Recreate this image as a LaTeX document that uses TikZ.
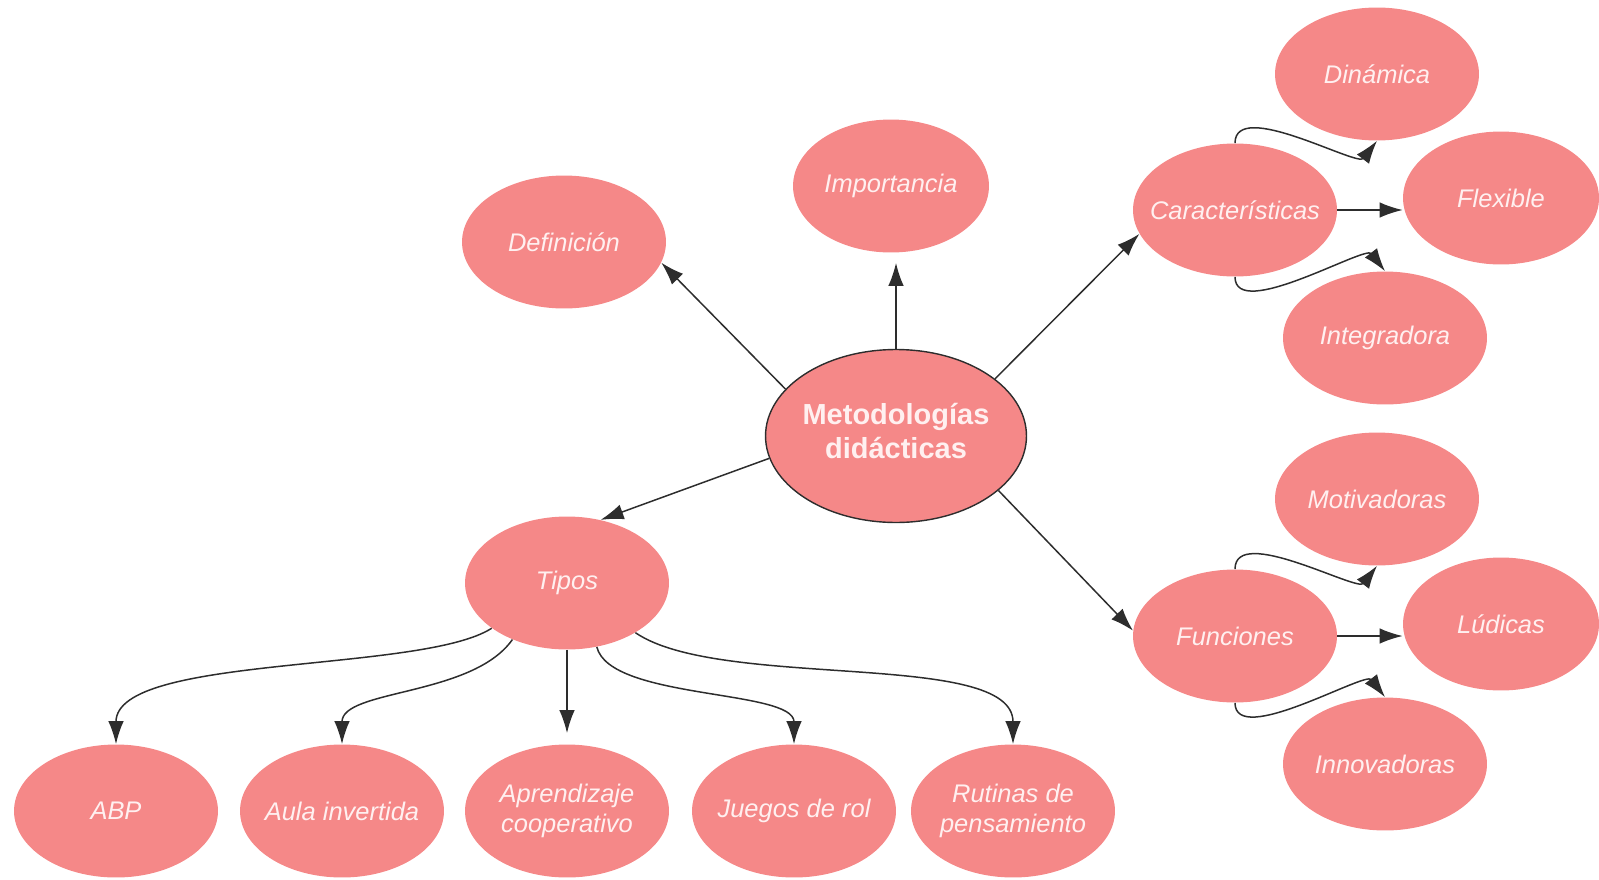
\documentclass[tikz,border=0pt]{standalone}
\usepackage{fontspec}
\setmainfont{Liberation Sans}
\usetikzlibrary{shapes.geometric,arrows.meta}
\definecolor{bubblefill}{RGB}{245,136,136}
\definecolor{bubbletext}{RGB}{255,240,240}
\definecolor{linkgray}{RGB}{45,45,45}
\begin{document}
\begin{tikzpicture}[x=0.02cm, y=-0.02cm]
    \tikzstyle{bubble}=[
        ellipse, fill=bubblefill, text=bubbletext,
        inner xsep=-0.3cm, inner ysep=0pt,
        minimum width=4.08cm, minimum height=2.66cm, align=center,
        font=\fontsize{14.5}{17.5}\selectfont\itshape]
    \tikzstyle{narrow}=[bubble, minimum width=3.92cm]
    \tikzstyle{hub}=[bubble, draw=linkgray, line width=0.8pt,
        minimum width=5.22cm, minimum height=3.46cm,
        font=\fontsize{16.5}{19}\selectfont\bfseries]
    \tikzstyle{connector}=[-{Latex[length=4.6mm,width=3.1mm]},
        color=linkgray, line width=0.85pt]
    \useasboundingbox (0,0) rectangle (1599,879);

    \node [hub] (meta) at (896,436) {Metodologías\\didácticas\strut};
    \node [bubble] (def) at (564,242) {Definición};
    \node [narrow] (imp) at (891,186) {Importancia};

    \node [bubble] (car) at (1235,210) {Características};
    \node [bubble] (din) at (1377,74) {Dinámica};
    \node [narrow] (flex) at (1501,198) {Flexible};
    \node [bubble] (integ) at (1385,338) {Integradora};

    \node [bubble] (fun) at (1235,636) {Funciones};
    \node [bubble] (motiv) at (1377,499) {Motivadoras};
    \node [narrow] (lud) at (1501,624) {Lúdicas};
    \node [bubble] (innov) at (1385,764) {Innovadoras};

    \node [bubble] (tipos) at (567,583) {Tipos};
    \foreach \name / \x / \label in {abp/116/ABP, aula/342/Aula invertida,
            apr/567/{Aprendizaje\\cooperativo}, juegos/794/Juegos de rol,
            rutinas/1013/{Rutinas de\\pensamiento}}
        \node [bubble] (\name) at (\x, 811) {\label};

    % from the centre
    \path [connector] (meta.157) edge (def.-12);
    \path [connector, shorten >=0.2cm] (meta.north) edge (meta.north |- imp.south);
    \path [connector] (meta.30) edge (car.194);
    \path [connector] (meta.190) edge (tipos.62);
    \path [connector] (meta.332) edge (fun.177);

    % characteristics and functions
    \foreach \src / \up / \mid / \down in {car/din/flex/integ, fun/motiv/lud/innov} {
        \draw [connector] (\src.north) .. controls +(0,-45) and +(-20,26) .. (\up.south);
        \path [connector] (\src.east) edge (\mid.west |- \src.east);
        \draw [connector] (\src.south) .. controls +(0,45) and +(-20,-26) .. (\down.north);
    }

    % kinds
    \draw [connector] (tipos.211) .. controls +(-70,45) and +(0,-90) .. (abp.north);
    \draw [connector] (tipos.226) .. controls +(-40,57) and +(0,-55) .. (aula.north);
    \path [connector, shorten >=0.22cm] (tipos.south) edge (apr.north);
    \draw [connector] (tipos.-65) .. controls +(13,53) and +(0,-55) .. (juegos.north);
    \draw [connector] (tipos.-36) .. controls +(85,58) and +(0,-95) .. (rutinas.north);
\end{tikzpicture}
\end{document}
